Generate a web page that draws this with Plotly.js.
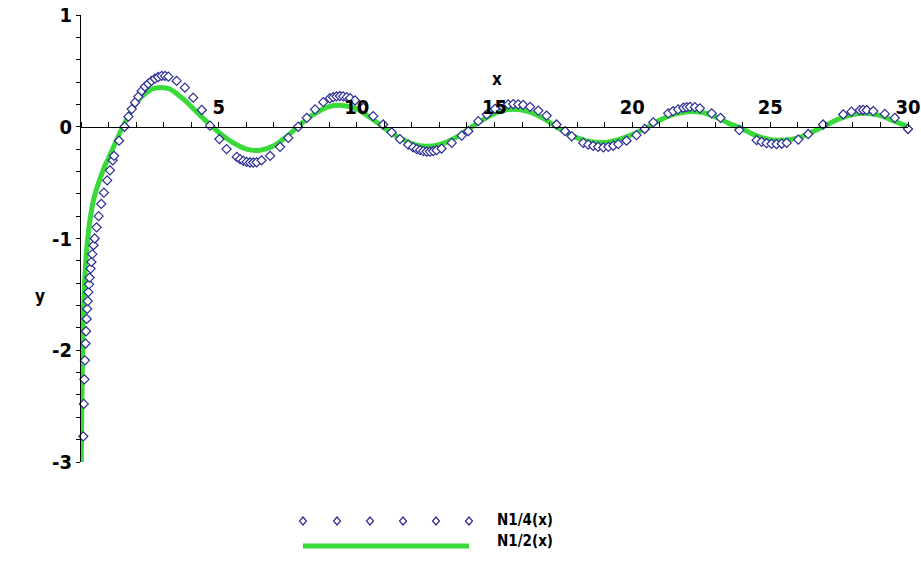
<!DOCTYPE html>
<html>
<head>
<meta charset="utf-8">
<script src="https://cdn.plot.ly/plotly-3.0.1.min.js"></script>
<style>html,body{margin:0;padding:0;background:#fff;}#chart{width:921px;height:564px;}</style>
</head>
<body>
<div id="chart"></div>
<script>
// ---- data ----
const seriesNames = ['N1/4(x)', 'N1/2(x)'];
const xTickVals = [5, 10, 15, 20, 25, 30];
const xTickText = ['5', '10', '15', '20', '25', '30'];
const yTickVals = [-3, -2, -1, 0, 1];
const yTickText = ['-3', '-2', '-1', '0', '1'];
const xTitle = 'x';
const yTitle = 'y';

// N1/4(x): point plot (diamonds)
const n14X = [0.083,0.102,0.123,0.143,0.165,0.184,0.206,0.227,0.245,0.268,0.29,0.311,0.35,0.377,0.41,0.455,0.496,0.565,0.64,0.735,0.83,0.95,1.05,1.15,1.2,1.38,1.58,1.72,1.84,1.96,2.08,2.2,2.32,2.44,2.56,2.68,2.8,2.93,3.05,3.17,3.47,3.77,4.07,4.38,4.68,5.02,5.28,5.65,5.77,5.89,6.01,6.13,6.25,6.37,6.55,6.86,7.22,7.52,7.88,8.19,8.49,8.79,9.03,9.15,9.27,9.39,9.51,9.64,9.76,9.94,10.24,10.6,10.96,11.27,11.57,11.87,12.05,12.18,12.3,12.42,12.54,12.66,12.78,12.9,13.08,13.45,13.81,14.05,14.41,14.72,15.02,15.26,15.5,15.68,15.86,16.04,16.29,16.59,16.89,17.25,17.56,17.8,18.22,18.4,18.58,18.76,18.95,19.13,19.31,19.49,19.79,20.15,20.45,20.76,21.3,21.48,21.66,21.85,21.97,22.09,22.27,22.45,22.88,23.2,23.88,24.51,24.69,24.87,25.05,25.23,25.42,25.6,26.02,26.38,26.92,27.65,27.95,28.25,28.37,28.5,28.74,29.16,29.52,30.0];
const n14Y = [-2.77,-2.48,-2.26,-2.09,-1.94,-1.83,-1.72,-1.63,-1.56,-1.48,-1.41,-1.35,-1.27,-1.21,-1.14,-1.06,-1.0,-0.9,-0.8,-0.69,-0.59,-0.48,-0.39,-0.3,-0.26,-0.125,0.0,0.09,0.158,0.217,0.27,0.32,0.358,0.385,0.41,0.43,0.445,0.455,0.455,0.448,0.41,0.35,0.26,0.15,0.01,-0.11,-0.2,-0.27,-0.29,-0.305,-0.315,-0.32,-0.32,-0.318,-0.3,-0.26,-0.18,-0.1,0.0,0.08,0.155,0.22,0.255,0.265,0.272,0.275,0.272,0.265,0.255,0.235,0.17,0.095,0.02,-0.05,-0.11,-0.16,-0.185,-0.2,-0.21,-0.218,-0.222,-0.222,-0.218,-0.21,-0.195,-0.145,-0.08,-0.04,0.05,0.11,0.16,0.19,0.2,0.203,0.2,0.195,0.178,0.145,0.1,0.02,-0.04,-0.085,-0.145,-0.16,-0.172,-0.18,-0.185,-0.18,-0.17,-0.155,-0.125,-0.075,-0.02,0.04,0.12,0.14,0.155,0.17,0.175,0.178,0.175,0.165,0.12,0.08,-0.03,-0.12,-0.135,-0.147,-0.153,-0.155,-0.152,-0.145,-0.115,-0.065,0.02,0.11,0.135,0.148,0.15,0.148,0.14,0.115,0.08,-0.02];

// N1/2(x): solid line
const n12X = [0.01,0.02,0.04,0.07,0.1,0.15,0.2,0.3,0.4,0.5,0.6,0.7,0.8,0.9,1.0,1.2,1.4,1.6,1.8,2.0,2.2,2.4,2.6,2.8,3.0,3.2,3.4,3.6,3.8,4.0,4.5,5.0,5.5,6.0,6.5,7.0,7.5,8.0,8.5,9.0,9.5,10.0,10.5,11.0,11.5,12.0,12.5,13.0,13.5,14.0,14.5,15.0,15.5,16.0,16.5,17.0,17.5,18.0,18.5,19.0,19.5,20.0,20.5,21.0,21.5,22.0,22.5,23.0,23.5,24.0,24.5,25.0,25.5,26.0,26.5,27.0,27.5,28.0,28.5,29.0,29.5,30.0];
const n12Y = [-3.0,-2.72,-2.3,-1.85,-1.58,-1.3,-1.12,-0.88,-0.72,-0.61,-0.53,-0.46,-0.39,-0.33,-0.28,-0.17,-0.06,0.04,0.13,0.21,0.27,0.31,0.34,0.35,0.35,0.34,0.31,0.27,0.23,0.18,0.06,-0.05,-0.14,-0.2,-0.21,-0.17,-0.08,0.03,0.12,0.18,0.19,0.16,0.08,-0.01,-0.09,-0.15,-0.175,-0.16,-0.11,-0.03,0.05,0.12,0.155,0.15,0.11,0.04,-0.04,-0.1,-0.135,-0.14,-0.115,-0.07,-0.01,0.06,0.11,0.135,0.13,0.09,0.03,-0.02,-0.08,-0.115,-0.12,-0.1,-0.05,0.01,0.07,0.11,0.12,0.1,0.05,0.0];

// ---- styling ----
const W = 921, H = 564;
const M = {l: 81, r: 13, t: 15, b: 102};
const PW = W - M.l - M.r, PH = H - M.t - M.b;
const FONT = 'DejaVu Sans Condensed, Liberation Sans Narrow, Roboto Condensed, Arial Narrow, sans-serif';
const GREEN = '#3ad93a';
const BLUE = '#2b2b96';
const px = x => (x - M.l) / PW;          // pixel -> paper (legend decoration only)
const py = y => (H - M.b - y) / PH;

// tick positions: every unit on x, every 0.2 on y; labels only at the read tick values
const xTicks = [], xTickLbl = [];
for (let i = 0; i <= 30; i++) {
  xTicks.push(i);
  const k = xTickVals.indexOf(i);
  xTickLbl.push(k >= 0 ? xTickText[k] : '');
}
const yTicks = [], yTickLbl = [];
for (let i = -15; i <= 5; i++) {
  const v = Math.round(i * 0.2 * 10) / 10;
  yTicks.push(v);
  const k = yTickVals.indexOf(v);
  yTickLbl.push(k >= 0 ? yTickText[k] : '');
}

const traces = [
  {x: n12X, y: n12Y, name: seriesNames[1], type: 'scatter', mode: 'lines',
   line: {color: GREEN, width: 5, shape: 'spline', smoothing: 1}, hoverinfo: 'skip'},
  {x: n14X, y: n14Y, name: seriesNames[0], type: 'scatter', mode: 'markers', cliponaxis: false,
   marker: {symbol: 'diamond', size: 7, color: '#ffffff', line: {color: BLUE, width: 1.2}}}
];

const legendDiamondX = [303, 337, 370, 403, 436, 469];
const shapes = legendDiamondX.map(x => ({
  type: 'path', xref: 'paper', yref: 'paper', xsizemode: 'pixel', ysizemode: 'pixel',
  xanchor: px(x), yanchor: py(521), path: 'M0,4 L3.5,0 L0,-4 L-3.5,0 Z',
  fillcolor: '#ffffff', line: {color: BLUE, width: 1.2}
}));
shapes.push({type: 'line', xref: 'paper', yref: 'paper', x0: px(303), x1: px(469), y0: py(546), y1: py(546),
  line: {color: GREEN, width: 5}});

const tickFont = {family: FONT, size: 20, color: '#000', weight: 'bold'};
const annFont = {family: FONT, size: 17, color: '#000', weight: 'bold'};
const legFont = {family: FONT, size: 15, color: '#000', weight: 'bold'};

const layout = {
  width: W, height: H, margin: M, paper_bgcolor: '#fff', plot_bgcolor: '#fff', showlegend: false,
  font: {family: FONT},
  xaxis: {range: [0, 30], anchor: 'free', position: 0.75, side: 'top', showline: true, linecolor: '#000', linewidth: 1,
    ticks: 'outside', ticklen: 5, tickcolor: '#000', tickmode: 'array', tickvals: xTicks, ticktext: xTickLbl,
    tickfont: tickFont, ticklabelstandoff: 0,
    showgrid: false, zeroline: false},
  yaxis: {range: [-3, 1], showline: true, linecolor: '#000', linewidth: 1,
    ticks: 'outside', ticklen: 4, tickcolor: '#000', tickmode: 'array', tickvals: yTicks, ticktext: yTickLbl,
    tickfont: tickFont,
    showgrid: false, zeroline: false},
  shapes: shapes,
  annotations: [
    {text: xTitle, xref: 'paper', yref: 'paper', x: px(497), y: py(79), showarrow: false, font: annFont, xanchor: 'center', yanchor: 'middle'},
    {text: yTitle, xref: 'paper', yref: 'paper', x: px(40), y: py(296), showarrow: false, font: annFont, xanchor: 'center', yanchor: 'middle'},
    {text: seriesNames[0], xref: 'paper', yref: 'paper', x: px(496), y: py(530), showarrow: false, font: legFont, xanchor: 'left', yanchor: 'bottom', borderpad: 0},
    {text: seriesNames[1], xref: 'paper', yref: 'paper', x: px(496), y: py(531), showarrow: false, font: legFont, xanchor: 'left', yanchor: 'top', borderpad: 0}
  ]
};

Plotly.newPlot('chart', traces, layout, {staticPlot: true, displayModeBar: false});
</script>
</body>
</html>
